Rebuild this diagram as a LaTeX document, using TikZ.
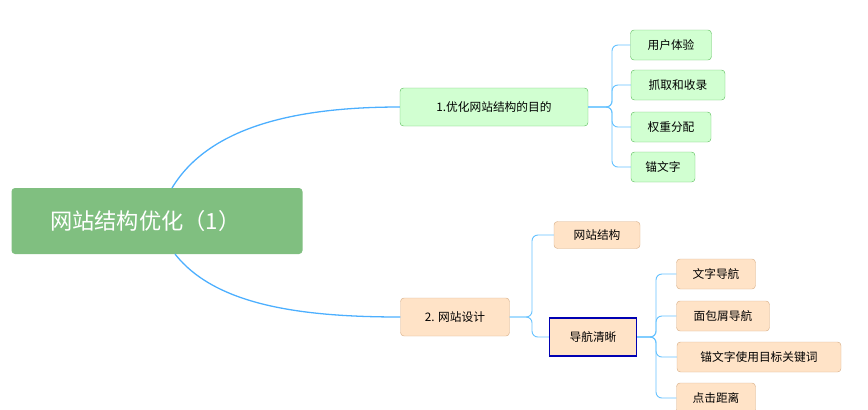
\documentclass[tikz,border=0pt]{standalone}
\usepackage{fontspec}
\setmainfont{Noto Sans CJK SC}
\begin{document}
\begin{tikzpicture}[x=0.03cm,y=-0.03cm,
  ln/.style={draw=blue!45!cyan!70!white,line width=1.1pt},
  lf/.style={draw=blue!40!cyan!60!white,line width=0.8pt,rounded corners=5pt},
  gbox/.style={draw=green!60!black!60,fill=green!18,rounded corners=3pt,font=\fontsize{10}{12}\selectfont,inner sep=0pt,minimum height=38*0.03cm},
  pbox/.style={draw=brown!60,fill=orange!22,rounded corners=3pt,font=\fontsize{10}{12}\selectfont,inner sep=0pt,minimum height=30*0.03cm}]
\useasboundingbox (0,0) rectangle (868,409);
\node[fill=green!55!teal!70!white,fill=green!50!black!50!white,rounded corners=3pt,minimum width=291*0.03cm,minimum height=66*0.03cm,text=white,font=\fontsize{19}{22}\selectfont,inner sep=0pt] (root) at (157,221) {\hspace*{-20pt}网站结构优化（1）};
\node[gbox,minimum width=188*0.03cm] (A) at (494,107) {1.优化网站结构的目的};
\node[pbox,minimum width=109*0.03cm,minimum height=38*0.03cm] (B) at (455,317) {2. 网站设计};
\node[gbox,minimum width=81*0.03cm,minimum height=30*0.03cm] (a1) at (671,45) {用户体验};
\node[gbox,minimum width=94*0.03cm,minimum height=30*0.03cm] (a2) at (678,85) {抓取和收录};
\node[gbox,minimum width=80*0.03cm,minimum height=30*0.03cm] (a3) at (671,127) {权重分配};
\node[gbox,minimum width=64*0.03cm,minimum height=30*0.03cm] (a4) at (663,167) {锚文字};
\node[pbox,minimum width=86*0.03cm,minimum height=27*0.03cm] (b1) at (597,235) {网站结构};
\node[pbox,minimum width=87*0.03cm,minimum height=38*0.03cm,draw=blue!70!black,line width=1pt,rounded corners=0pt] (b2) at (593,337) {导航清晰};
\node[pbox,minimum width=79*0.03cm] (c1) at (716,274) {文字导航};
\node[pbox,minimum width=93*0.03cm] (c2) at (723,316) {面包屑导航};
\node[pbox,minimum width=164*0.03cm] (c3) at (759,357) {锚文字使用目标关键词};
\node[pbox,minimum width=79*0.03cm] (c4) at (716,398) {点击距离};
\coordinate (r1) at (172,188);
\coordinate (r2) at (175,254);
\draw[ln] (r1) .. controls (210,125) and (300,107) .. (A.west);
\draw[ln] (r2) .. controls (215,305) and (300,317) .. (B.west);
\foreach \c in {a1,a2,a3,a4} \draw[lf] (A.east) -- (612,107) |- (\c.west);
\foreach \c in {b1,b2} \draw[lf] (B.east) -- (532,317) |- (\c.west);
\foreach \c in {c1,c2,c3,c4} \draw[lf] (b2.east) -- (656,337) |- (\c.west);
\end{tikzpicture}
\end{document}
